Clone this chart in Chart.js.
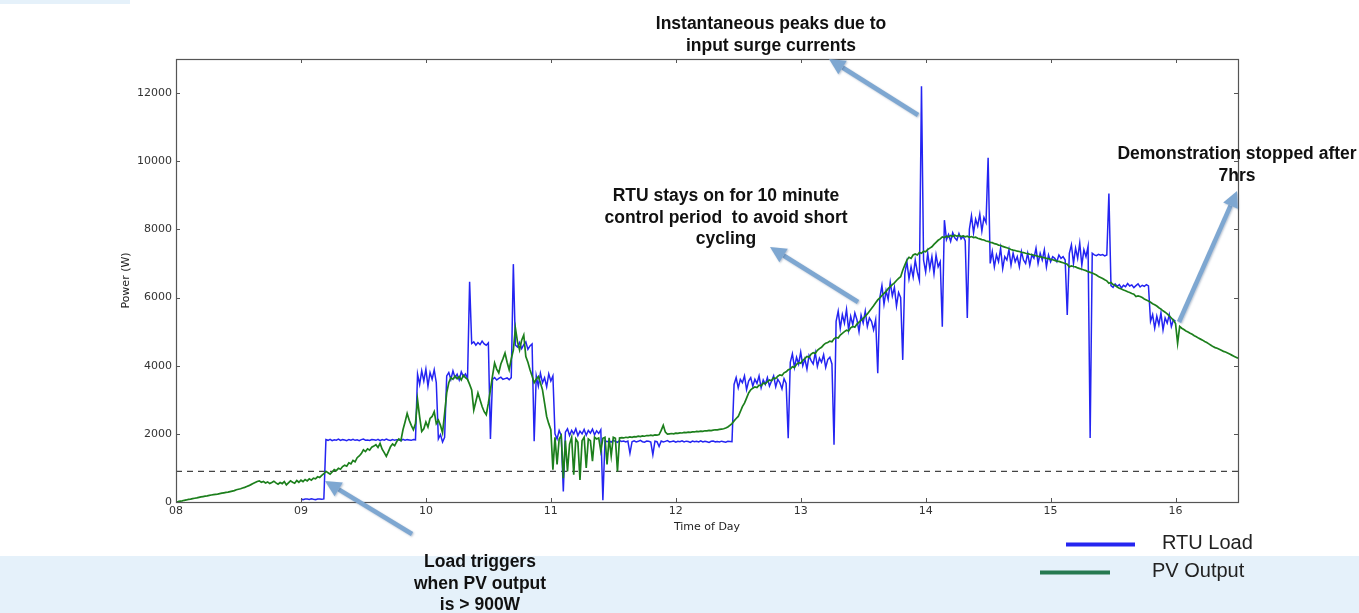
<!DOCTYPE html>
<html>
<head>
<meta charset="utf-8">
<script src="https://cdn.jsdelivr.net/npm/chart.js@4.4.1/dist/chart.umd.min.js"></script>
<style>
  html, body { margin: 0; padding: 0; background: #fff; }
  canvas { display: block; }
</style>
</head>
<body>
<canvas id="chart" width="1359" height="613"></canvas>
<script>
// --- Data: one sample per minute ---
const pvStartHour = 8;
const loadStartHour = 9;
const thresholdWatts = 900;
const hourTicks = [8, 9, 10, 11, 12, 13, 14, 15, 16];
const powerTicks = [0, 2000, 4000, 6000, 8000, 10000, 12000];

// PV output (W), 08:00 -> 16:30
const pvWatts = [
  0, 10, 25, 35, 50, 60, 75, 85, 100, 110,
  120, 135, 150, 160, 170, 180, 195, 205, 215, 225,
  230, 245, 260, 270, 280, 290, 305, 320, 335, 360,
  375, 390, 410, 430, 455, 480, 510, 540, 570, 600,
  620, 580, 600, 560, 590, 540, 570, 610, 560, 520,
  570, 540, 600, 500, 560, 620, 580, 550, 630, 580,
  640, 600, 660, 620, 680, 640, 700,
  680, 740, 720, 780, 830, 900,
  860, 820, 880, 950, 920, 990, 960, 1040,
  1080, 1050, 1150, 1120, 1220, 1180, 1300, 1350, 1420, 1530,
  1480, 1560, 1520, 1610, 1640, 1680,
  1600, 1720, 1550, 1450, 1340,
  1480, 1620, 1700, 1650, 1775,
  1850, 1800, 2120, 2350, 2600,
  2400, 2250, 2120, 2300, 3000, 2500, 2070,
  2150, 2350, 2200, 2450, 2510, 2650, 2300, 2400, 2250, 2030,
  2600, 3200, 3500,
  3650, 3600, 3700, 3620, 3680, 3580, 3720, 3650, 3600,
  3450, 3290, 2700, 2950, 3200,
  3000, 2800, 2650, 2560, 2900, 3290,
  3700, 4080, 3900, 3790, 4050, 4200, 4370,
  4100, 3880, 4200, 4460, 5100,
  4700, 4460, 4750, 4900, 4270,
  4100, 3880, 3700, 3500, 3600, 3680, 3500,
  3290, 2900, 2510, 2300, 2120, 950, 1900,
  1100, 1850, 1950, 700, 1800, 900, 1700, 1900, 800, 1850,
  1750, 650, 1800, 1900, 1000, 1850, 1800, 1200, 1900, 1850,
  1880, 1500, 1870, 1900, 1100, 1880, 1350, 1900, 1870, 900, 1880,
  1890, 1880, 1900, 1890, 1910, 1900, 1920, 1910, 1930, 1920,
  1940, 1930, 1950, 1945, 1960, 1950, 1970, 1960, 1980, 2100,
  2250, 2050, 1990, 2000, 2010, 2000, 2020, 2015, 2030, 2025,
  2040, 2035, 2050, 2045, 2060, 2055, 2070, 2065, 2080, 2075,
  2090, 2085, 2100, 2095, 2110, 2120, 2115, 2130, 2140, 2150,
  2170,
  2200, 2250, 2300, 2380, 2450, 2510, 2650, 2800, 2900, 3050, 3200, 3290,
  3340, 3380, 3360, 3430, 3410, 3490, 3470, 3530, 3580, 3560, 3640, 3620, 3690, 3730, 3710, 3790, 3820, 3880,
  3900, 3970, 3950, 4040, 4090, 4070, 4160, 4210, 4270, 4250, 4340, 4380, 4360, 4450, 4500, 4540, 4610, 4660,
  4680, 4720, 4700, 4790, 4830, 4810, 4900, 4950, 5000, 5040, 5020, 5110, 5150, 5130, 5220, 5280, 5330, 5390,
  5450, 5520, 5600, 5680, 5760, 5850, 5930,
  5990, 6060, 6120, 6180, 6260, 6320,
  6380, 6430, 6500, 6560, 6610,
  6800, 6950, 7100, 7180, 7150, 7250,
  7280, 7250, 7320, 7300, 7360, 7340, 7410, 7450, 7490,
  7560, 7620, 7680, 7720, 7780,
  7760, 7800, 7780, 7820, 7790, 7830, 7800,
  7820, 7790, 7810, 7780, 7800, 7770, 7790, 7760, 7770, 7740,
  7720, 7700, 7690, 7660, 7650, 7620, 7610, 7580, 7570, 7540, 7530, 7500, 7480, 7460, 7440, 7410, 7390,
  7380, 7360, 7350, 7330, 7320, 7300, 7290, 7270, 7260, 7240, 7230, 7210, 7200, 7180, 7170, 7150,
  7140, 7120, 7110, 7090, 7070, 7060, 7040, 7020, 7000, 6980, 6900,
  6930, 6910, 6900, 6870, 6850, 6830, 6810, 6790, 6760, 6740, 6720, 6690, 6660,
  6620, 6590, 6560, 6520, 6490, 6420, 6440, 6380, 6350, 6310, 6270,
  6250, 6220, 6200, 6170, 6150, 6120, 6100, 6030, 6050, 6030, 6000, 5960, 5930,
  5900, 5860, 5820, 5790, 5750, 5700, 5660, 5610, 5570, 5520, 5460, 5400, 5330, 5240,
  4660,
  5150, 5100, 5060, 5020, 4990, 4950, 4920, 4880, 4850, 4810, 4780, 4750, 4710, 4680, 4640, 4600, 4560,
  4530, 4510, 4480, 4450, 4420, 4400, 4370, 4340, 4310, 4280, 4250, 4220
];

// RTU load (W), 09:00 -> 16:00
const loadWatts = [
  80, 70, 90, 85, 75, 95, 80, 70, 90, 85, 80, 90,
  1830, 1810, 1840, 1800, 1825, 1815, 1845, 1805, 1830, 1820,
  1800, 1835, 1815, 1840, 1810, 1825, 1800, 1830, 1845, 1815,
  1820, 1805, 1835, 1825, 1810, 1840, 1800, 1830, 1815, 1845,
  1820, 1805, 1835, 1810, 1830, 1825, 1800, 1840, 1815, 1830,
  1820, 1810, 1835, 1825,
  3750, 3450, 3850, 3550, 3900, 3400, 3800, 3600, 3880, 3500,
  1850, 1980, 1760, 1900,
  3700, 3800, 3600, 3850, 3650, 3750, 3580, 3820, 3680, 3760, 3620,
  6460,
  4650, 4700, 4600, 4680, 4620, 4720, 4640, 4600, 4670,
  1850,
  3600, 3650, 3580, 3630, 3660, 3600, 3620, 3640, 3590, 3650,
  6980,
  4600, 4550, 4680, 4500, 4620, 4700, 4480, 4580, 4640,
  1780,
  3700, 3400, 3780, 3500, 3650, 3380, 3760, 3550, 3700,
  2000, 1850, 2100, 1950, 310, 2050, 2150, 1950, 2100, 2000,
  2150, 1950, 2080, 2000, 2130, 1960, 2100, 2020, 2140, 1970,
  2090, 2010, 2120,
  50,
  1800, 1770, 1790, 1760, 1810, 1780, 1750, 1800, 1775, 1790,
  1760, 1785, 1430, 1770, 1795, 1765, 1780, 1810, 1770, 1755,
  1790, 1780, 1760, 1390, 1785, 1770, 1630, 1790, 1760, 1780,
  1800, 1765, 1775, 1790, 1755, 1780, 1770, 1795, 1760, 1785,
  1775, 1750, 1790, 1770, 1780, 1760, 1795, 1765, 1785, 1770,
  1750, 1780, 1790, 1765, 1775, 1760, 1785, 1770, 1755, 1780,
  1775, 1770,
  3450, 3650, 3350, 3600, 3500, 3700, 3300, 3550, 3650, 3400,
  3600, 3480, 3700, 3350, 3580, 3450, 3650, 3400, 3550, 3700,
  3380, 3600, 3500, 3320, 3620, 3480,
  1875,
  4100, 4350, 3950, 4250, 4050, 4400, 4000, 4200, 3900, 4300,
  4150, 4050, 4380, 3980, 4220, 4100, 4320, 3950, 4180, 4250, 4050,
  1680,
  5300, 5600, 5100, 5500, 5250, 5650, 5050, 5450, 5200, 5550,
  5350, 5000, 5480, 5250, 5600, 5150, 5400, 5300, 5050, 5350,
  3780,
  6000, 6350, 5800, 6200, 5950, 6450, 6050, 6300, 5750, 6150, 6000,
  4170,
  6700, 7050, 6550, 6900, 6600, 7100, 6750, 6500,
  12200,
  7100, 6750, 7300, 6850, 7200, 6700, 7250, 6900, 7050,
  5140, 8270,
  7700, 7850, 7650, 7900, 7750, 7680, 7880, 7720, 7800, 7660,
  5400,
  8000, 8400, 7900, 8300, 8100, 8450, 7950, 8350, 8200,
  10100,
  7000, 7350, 6900, 7250, 7050, 7450, 6850, 7200, 7100, 7400,
  6950, 7300, 7050, 7200, 6900, 7350, 7100, 7000, 7300, 6950,
  7250, 7150, 7450, 7000, 7300, 7100, 7400, 6900, 7250, 7050,
  7200, 7150, 7050, 7250, 7150, 7200, 7100,
  5490,
  7300, 7550, 7000, 7450, 7150, 7600, 6950, 7400, 7200, 7500,
  1875,
  7300, 7250, 7230, 7270, 7240, 7260, 7220, 7250,
  9050,
  6350, 6300, 6400, 6330, 6380, 6280, 6360, 6320, 6410, 6340,
  6370, 6290, 6350, 6400, 6310, 6360, 6330, 6380, 6340,
  5300, 5500, 5100, 5450, 5200, 5550, 5050, 5400, 5250, 5500, 5150, 5350, 5300
];

const seriesNames = ['RTU Load', 'PV Output'];

const notes = [
  { lines: ['Instantaneous peaks due to', 'input surge currents'], x: 771, y: 29, from: [918, 115], to: [829, 59] },
  { lines: ['RTU stays on for 10 minute', 'control period  to avoid short', 'cycling'], x: 726, y: 201, from: [858, 302], to: [770, 247] },
  { lines: ['Load triggers', 'when PV output', 'is > 900W'], x: 480, y: 567, from: [412, 534], to: [325, 481] },
  { lines: ['Demonstration stopped after', '7hrs'], x: 1237, y: 159, from: [1179, 322], to: [1237, 191] }
];

const toPoints = (arr, start) => arr.map((w, i) => ({ x: start + i / 60, y: w }));

function drawArrow(ctx, x1, y1, x2, y2) {
  const ang = Math.atan2(y2 - y1, x2 - x1);
  const headLen = 16, headW = 8;
  const bx = x2 - headLen * Math.cos(ang), by = y2 - headLen * Math.sin(ang);
  ctx.save();
  ctx.shadowColor = 'rgba(60,90,130,0.35)';
  ctx.shadowBlur = 2;
  ctx.shadowOffsetX = 1;
  ctx.shadowOffsetY = 1;
  ctx.strokeStyle = '#7ea7d1';
  ctx.fillStyle = '#7ea7d1';
  ctx.lineWidth = 4.5;
  ctx.beginPath(); ctx.moveTo(x1, y1); ctx.lineTo(bx, by); ctx.stroke();
  ctx.beginPath();
  ctx.moveTo(x2, y2);
  ctx.lineTo(bx + headW * Math.sin(ang), by - headW * Math.cos(ang));
  ctx.lineTo(bx - headW * Math.sin(ang), by + headW * Math.cos(ang));
  ctx.closePath(); ctx.fill();
  ctx.restore();
}

const slideDecor = {
  id: 'slideDecor',
  beforeDraw(chart) {
    const ctx = chart.ctx;
    ctx.save();
    ctx.fillStyle = '#ffffff';
    ctx.fillRect(0, 0, chart.width, chart.height);
    ctx.fillStyle = '#e5f1fa';
    ctx.fillRect(0, 556, chart.width, chart.height - 556);
    ctx.fillRect(0, 0, 130, 4);
    ctx.restore();
  },
  afterDatasetsDraw(chart) {
    const { ctx, chartArea: a, scales: { x, y } } = chart;
    ctx.save();
    ctx.strokeStyle = '#555';
    ctx.lineWidth = 1.2;
    ctx.strokeRect(Math.round(a.left) + 0.5, Math.round(a.top) + 0.5, Math.round(a.width), Math.round(a.height));
    ctx.lineWidth = 1;
    ctx.beginPath();
    hourTicks.forEach(h => {
      const px = Math.round(x.getPixelForValue(h)) + 0.5;
      ctx.moveTo(px, a.bottom); ctx.lineTo(px, a.bottom - 4);
      ctx.moveTo(px, a.top); ctx.lineTo(px, a.top + 4);
    });
    powerTicks.forEach(p => {
      const py = Math.round(y.getPixelForValue(p)) + 0.5;
      ctx.moveTo(a.left, py); ctx.lineTo(a.left + 4, py);
      ctx.moveTo(a.right, py); ctx.lineTo(a.right - 4, py);
    });
    ctx.stroke();
    ctx.restore();
  },
  afterDraw(chart) {
    const ctx = chart.ctx;
    ctx.save();
    notes.forEach(n => drawArrow(ctx, n.from[0], n.from[1], n.to[0], n.to[1]));
    ctx.fillStyle = '#111';
    ctx.font = 'bold 17.5px "Liberation Sans", Arial, sans-serif';
    ctx.textAlign = 'center';
    ctx.textBaseline = 'alphabetic';
    notes.forEach(n => n.lines.forEach((t, i) => ctx.fillText(t, n.x, n.y + i * 21.5)));

    // legend
    ctx.lineWidth = 4;
    ctx.strokeStyle = '#2525f0';
    ctx.beginPath(); ctx.moveTo(1066, 544.5); ctx.lineTo(1135, 544.5); ctx.stroke();
    ctx.strokeStyle = '#267a50';
    ctx.beginPath(); ctx.moveTo(1040, 572.5); ctx.lineTo(1110, 572.5); ctx.stroke();
    ctx.fillStyle = '#222';
    ctx.font = '20px "Liberation Sans", Arial, sans-serif';
    ctx.textAlign = 'left';
    ctx.textBaseline = 'middle';
    ctx.fillText(seriesNames[0], 1162, 543);
    ctx.fillText(seriesNames[1], 1152, 571);
    ctx.restore();
  }
};

const tickFont = { family: 'DejaVu Sans', size: 11 };

new Chart(document.getElementById('chart'), {
  type: 'line',
  data: {
    datasets: [
      { label: seriesNames[1], data: toPoints(pvWatts, pvStartHour), borderColor: '#1c7f1c', borderWidth: 1.7, order: 0 },
      { label: seriesNames[0], data: toPoints(loadWatts, loadStartHour), borderColor: '#2424f2', borderWidth: 1.5, order: 1 },
      { label: 'threshold', data: [{ x: 8, y: thresholdWatts }, { x: 16.5, y: thresholdWatts }], borderColor: '#444', borderWidth: 1.2, borderDash: [6, 5], order: 2 }
    ]
  },
  options: {
    responsive: false,
    animation: false,
    events: [],
    elements: { point: { radius: 0 }, line: { tension: 0 } },
    layout: { padding: { top: 59, right: 121, bottom: 0, left: 116 } },
    plugins: { legend: { display: false }, tooltip: { enabled: false } },
    scales: {
      x: {
        type: 'linear', min: 8, max: 16.5,
        grid: { display: false, drawTicks: false },
        border: { display: false },
        afterBuildTicks: s => { s.ticks = hourTicks.map(v => ({ value: v })); },
        afterFit: s => { s.height = 111; },
        ticks: { padding: 3, color: '#333', font: tickFont, maxRotation: 0, callback: v => String(v).padStart(2, '0') },
        title: { display: true, text: 'Time of Day', color: '#222', font: tickFont, padding: { top: 0, bottom: 79 } }
      },
      y: {
        type: 'linear', min: 0, max: 13000,
        grid: { display: false, drawTicks: false },
        border: { display: false },
        afterBuildTicks: s => { s.ticks = powerTicks.map(v => ({ value: v })); },
        afterFit: s => { s.width = 60; },
        ticks: { padding: 4, color: '#333', font: tickFont, callback: v => String(v) },
        title: { display: true, text: 'Power (W)', color: '#222', font: tickFont, padding: { top: 4, bottom: 0 } }
      }
    }
  },
  plugins: [slideDecor]
});
</script>
</body>
</html>
